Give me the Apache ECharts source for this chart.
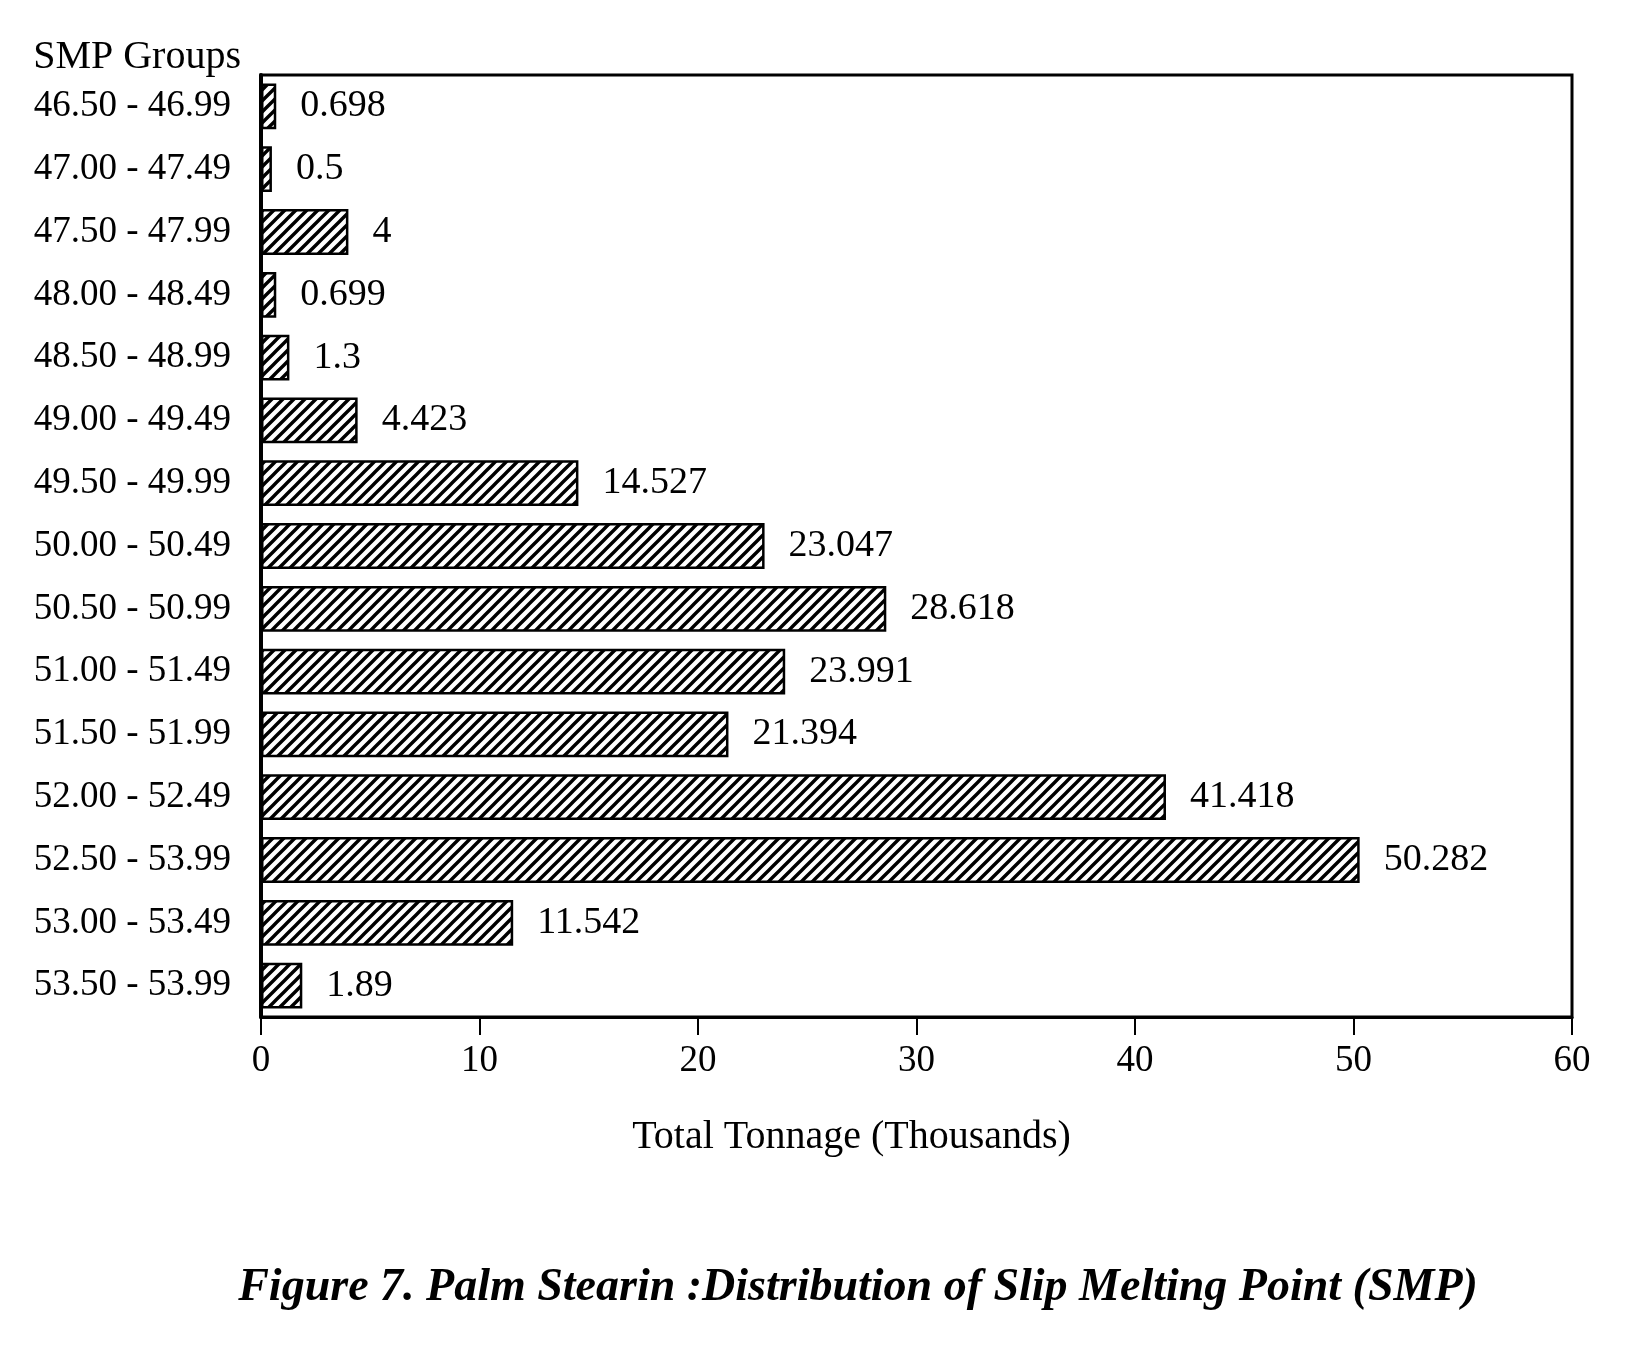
<!DOCTYPE html>
<html>
<head>
<meta charset="utf-8">
<title>Palm Stearin SMP</title>
<script src="https://cdn.jsdelivr.net/npm/echarts@6/dist/echarts.min.js"></script>
<style>
  html, body { margin: 0; padding: 0; background: #fff; }
  #main { width: 1640px; height: 1358px; }
</style>
</head>
<body>
<div id="main"></div>
<script>
// SMP groups, top to bottom as printed
var groups = ['46.50 - 46.99', '47.00 - 47.49', '47.50 - 47.99', '48.00 - 48.49',
              '48.50 - 48.99', '49.00 - 49.49', '49.50 - 49.99', '50.00 - 50.49',
              '50.50 - 50.99', '51.00 - 51.49', '51.50 - 51.99', '52.00 - 52.49',
              '52.50 - 53.99', '53.00 - 53.49', '53.50 - 53.99'];
// total tonnage, thousands
var tonnage = [0.698, 0.5, 4, 0.699, 1.3, 4.423, 14.527, 23.047,
               28.618, 23.991, 21.394, 41.418, 50.282, 11.542, 1.89];
var xTicks = [0, 10, 20, 30, 40, 50, 60];

var FONT = '"Liberation Serif", "DejaVu Serif", serif';

// diagonal hatch fill
function hatch() {
  var s = 11;
  var c = document.createElement('canvas');
  c.width = s; c.height = s;
  var g = c.getContext('2d');
  g.fillStyle = '#fff';
  g.fillRect(0, 0, s, s);
  g.strokeStyle = '#000';
  g.lineWidth = 3.4;
  g.beginPath();
  g.moveTo(0, s); g.lineTo(s, 0);
  g.moveTo(-s, s); g.lineTo(s, -s);
  g.moveTo(0, 2 * s); g.lineTo(2 * s, 0);
  g.stroke();
  return c;
}

var chart = echarts.init(document.getElementById('main'));
chart.setOption({
  backgroundColor: '#fff',
  animation: false,
  title: {
    text: 'Figure 7. Palm Stearin :Distribution of Slip Melting Point (SMP)',
    left: 853, top: 1260, textAlign: 'center',
    textStyle: { fontFamily: FONT, fontStyle: 'italic', fontWeight: 'bold', fontSize: 46, color: '#000' }
  },
  grid: {
    left: 261, top: 75, width: 1311, height: 942,
    show: true, borderColor: '#000', borderWidth: 3, backgroundColor: 'transparent'
  },
  xAxis: {
    type: 'value', min: 0, max: 60, interval: 10,
    name: 'Total Tonnage (Thousands)', nameLocation: 'middle', nameGap: 100,
    nameTextStyle: { fontFamily: FONT, fontSize: 40, color: '#000', padding: [0, 130, 0, 0] },
    axisLine: { show: true, lineStyle: { color: '#000', width: 3 } },
    axisTick: { show: true, length: 18, lineStyle: { color: '#000', width: 2 } },
    splitLine: { show: false },
    axisLabel: {
      fontFamily: FONT, fontSize: 37, color: '#000', margin: 26,
      formatter: function (v) { return xTicks.indexOf(v) >= 0 ? String(v) : ''; }
    }
  },
  yAxis: {
    type: 'category', data: groups, inverse: true,
    name: 'SMP Groups', nameLocation: 'start', nameGap: -2,
    nameTextStyle: { fontFamily: FONT, fontSize: 40, color: '#000', align: 'right', padding: [0, 20, 0, 0] },
    axisLine: { show: true, lineStyle: { color: '#000', width: 4 } },
    axisTick: { show: false },
    axisLabel: { fontFamily: FONT, fontSize: 37, color: '#000', margin: 30 }
  },
  series: [{
    type: 'bar',
    data: tonnage,
    barWidth: '73%',
    itemStyle: {
      color: { image: hatch(), repeat: 'repeat' },
      borderColor: '#000', borderWidth: 2.5
    },
    label: {
      show: true, position: 'right', distance: 24,
      fontFamily: FONT, fontSize: 38, color: '#000',
      formatter: function (p) { return String(p.value); }
    }
  }]
});
</script>
</body>
</html>
